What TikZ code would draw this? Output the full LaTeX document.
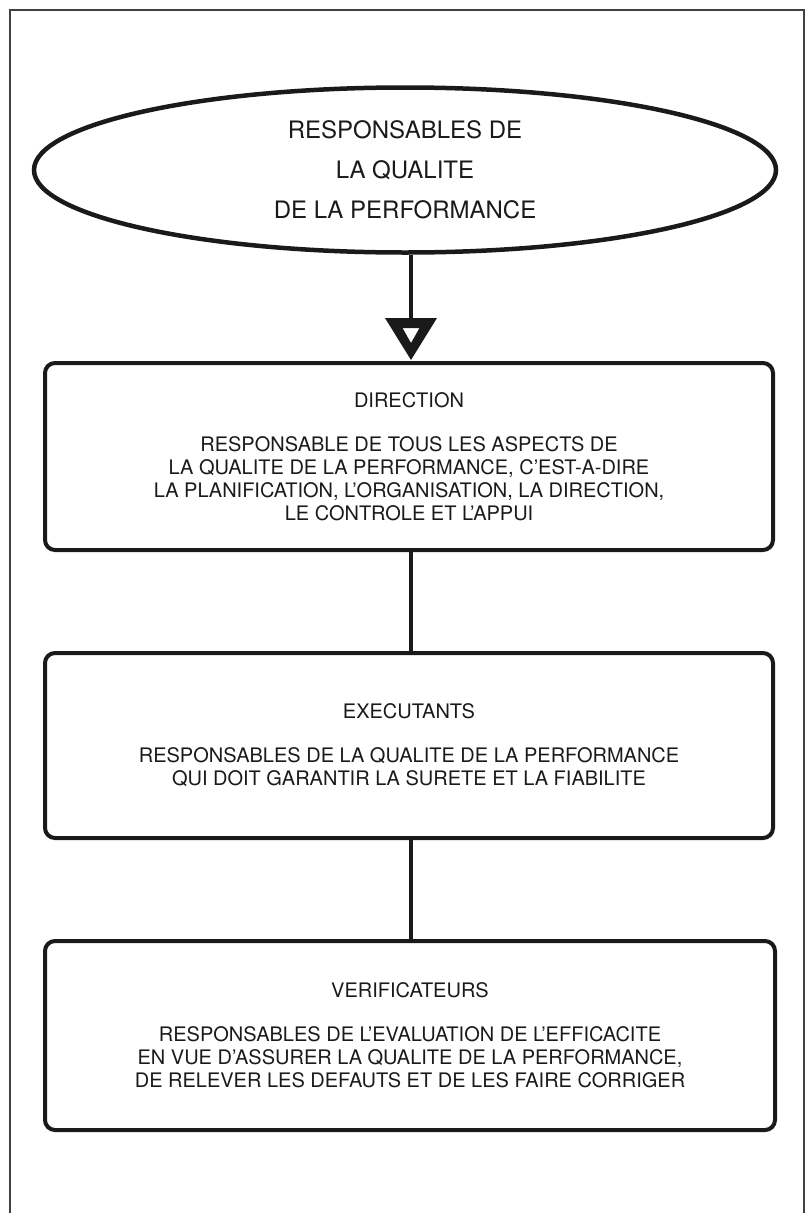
\documentclass[tikz,border=0pt]{standalone}
\usepackage{fontspec}
\setmainfont{TeX Gyre Heros}
\usetikzlibrary{shapes.geometric}
\definecolor{ink}{HTML}{1A1A1A}
\tikzset{
  flowbox/.style={draw=ink, line width=4pt, rounded corners=10pt, minimum width=728pt,
    align=center, text=ink, font=\fontsize{20}{23}\selectfont, inner sep=0pt},
  conn/.style={draw=ink, line width=4.5pt},
  bigoval/.style={draw=ink, ellipse, line width=4.5pt, minimum width=742pt, minimum height=165pt,
    align=center, text=ink, font=\fontsize{24}{40}\selectfont, inner sep=0pt},
  frameline/.style={draw=black!75, line width=1.6pt}
}
\begin{document}
\begin{tikzpicture}[x=1pt,y=-1pt]
\useasboundingbox (0,0) rectangle (809,1213);
% outer frame
\draw[frameline] (10,1220) -- (10,10) -- (804,10) -- (804,1220);
% ellipse
\node[bigoval] (resp) at (405,170) {RESPONSABLES DE\\LA QUALITE\\DE LA PERFORMANCE};
% boxes
\node[flowbox, minimum height=187pt] (dir) at (409,456.5)
  {DIRECTION\\[21pt]RESPONSABLE DE TOUS LES ASPECTS DE\\LA QUALITE DE LA PERFORMANCE, C'EST-A-DIRE\\LA PLANIFICATION, L'ORGANISATION, LA DIRECTION,\\LE CONTROLE ET L'APPUI};
\node[flowbox, minimum height=185pt] (exe) at (409,745.5)
  {EXECUTANTS\\[21pt]RESPONSABLES DE LA QUALITE DE LA PERFORMANCE\\QUI DOIT GARANTIR LA SURETE ET LA FIABILITE};
\node[flowbox, minimum height=189pt, minimum width=730pt] (ver) at (410,1035.5)
  {VERIFICATEURS\\[21pt]RESPONSABLES DE L'EVALUATION DE L'EFFICACITE\\EN VUE D'ASSURER LA QUALITE DE LA PERFORMANCE,\\DE RELEVER LES DEFAUTS ET DE LES FAIRE CORRIGER};
% arrow with hollow triangle head
\coordinate (tritop) at (411,318);
\draw[conn] (resp.south -| tritop) -- (tritop);
\fill[ink, even odd rule] (385,318) -- (437,318) -- (411,360) -- cycle
  (402.5,328) -- (419.5,328) -- (411,343) -- cycle;
% connectors
\draw[conn] (dir.south -| tritop) -- (exe.north -| tritop);
\draw[conn] (exe.south -| tritop) -- (ver.north -| tritop);
\end{tikzpicture}
\end{document}
